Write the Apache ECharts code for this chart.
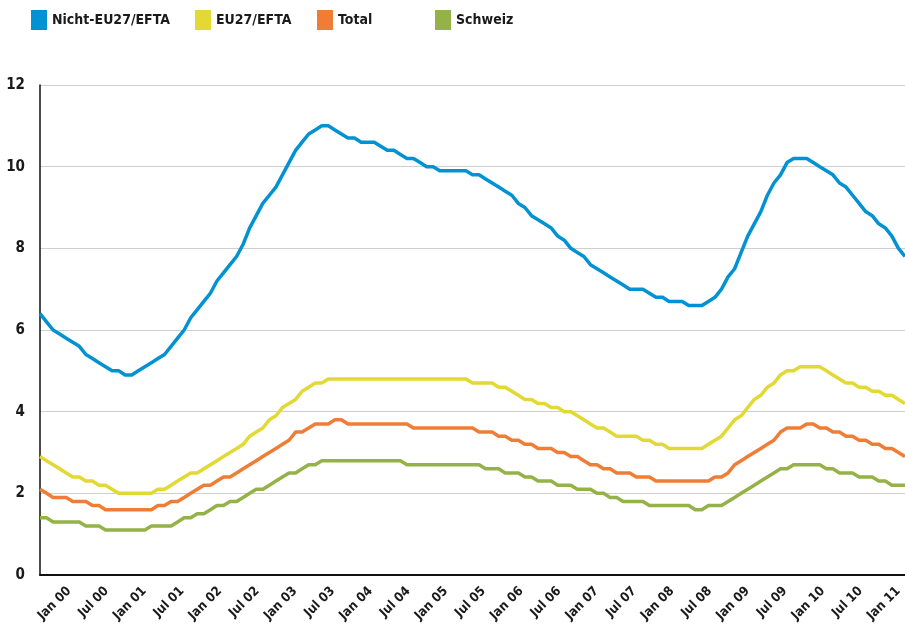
<!DOCTYPE html>
<html>
<head>
<meta charset="utf-8">
<script src="https://cdn.jsdelivr.net/npm/echarts@6/dist/echarts.min.js"></script>
<style>
  html, body { margin: 0; padding: 0; background: #fff; }
  #chart { width: 905px; height: 626px; }
</style>
</head>
<body>
<div id="chart"></div>
<script>
// ========== Monatswerte Jan 2000 – Jan 2011 ==========
const monthNames = ['Jan','Feb','Mär','Apr','Mai','Jun','Jul','Aug','Sep','Okt','Nov','Dez'];
const categories = [];
for (let y = 2000; y <= 2011; y++) {
    for (let m = 0; m < 12; m++) {
        if (y === 2011 && m > 0) break;
        categories.push(monthNames[m] + ' ' + String(y).slice(2));
    }
}

// Achsenbeschriftung (alle 6 Monate)
const tickLabels = ['Jan 00','Jul 00','Jan 01','Jul 01','Jan 02','Jul 02','Jan 03','Jul 03',
    'Jan 04','Jul 04','Jan 05','Jul 05','Jan 06','Jul 06','Jan 07','Jul 07','Jan 08','Jul 08',
    'Jan 09','Jul 09','Jan 10','Jul 10','Jan 11'];

const nichtEU = [
    6.4,6.2,6.0,5.9,5.8,5.7,5.6,5.4,5.3,5.2,
    5.1,5.0,5.0,4.9,4.9,5.0,5.1,5.2,5.3,5.4,
    5.6,5.8,6.0,6.3,6.5,6.7,6.9,7.2,7.4,7.6,
    7.8,8.1,8.5,8.8,9.1,9.3,9.5,9.8,10.1,10.4,
    10.6,10.8,10.9,11.0,11.0,10.9,10.8,10.7,10.7,10.6,
    10.6,10.6,10.5,10.4,10.4,10.3,10.2,10.2,10.1,10.0,
    10.0,9.9,9.9,9.9,9.9,9.9,9.8,9.8,9.7,9.6,
    9.5,9.4,9.3,9.1,9.0,8.8,8.7,8.6,8.5,8.3,
    8.2,8.0,7.9,7.8,7.6,7.5,7.4,7.3,7.2,7.1,
    7.0,7.0,7.0,6.9,6.8,6.8,6.7,6.7,6.7,6.6,
    6.6,6.6,6.7,6.8,7.0,7.3,7.5,7.9,8.3,8.6,
    8.9,9.3,9.6,9.8,10.1,10.2,10.2,10.2,10.1,10.0,
    9.9,9.8,9.6,9.5,9.3,9.1,8.9,8.8,8.6,8.5,
    8.3,8.0,7.8
];
const eu27 = [
    2.9,2.8,2.7,2.6,2.5,2.4,2.4,2.3,2.3,2.2,
    2.2,2.1,2.0,2.0,2.0,2.0,2.0,2.0,2.1,2.1,
    2.2,2.3,2.4,2.5,2.5,2.6,2.7,2.8,2.9,3.0,
    3.1,3.2,3.4,3.5,3.6,3.8,3.9,4.1,4.2,4.3,
    4.5,4.6,4.7,4.7,4.8,4.8,4.8,4.8,4.8,4.8,
    4.8,4.8,4.8,4.8,4.8,4.8,4.8,4.8,4.8,4.8,
    4.8,4.8,4.8,4.8,4.8,4.8,4.7,4.7,4.7,4.7,
    4.6,4.6,4.5,4.4,4.3,4.3,4.2,4.2,4.1,4.1,
    4.0,4.0,3.9,3.8,3.7,3.6,3.6,3.5,3.4,3.4,
    3.4,3.4,3.3,3.3,3.2,3.2,3.1,3.1,3.1,3.1,
    3.1,3.1,3.2,3.3,3.4,3.6,3.8,3.9,4.1,4.3,
    4.4,4.6,4.7,4.9,5.0,5.0,5.1,5.1,5.1,5.1,
    5.0,4.9,4.8,4.7,4.7,4.6,4.6,4.5,4.5,4.4,
    4.4,4.3,4.2
];
const total = [
    2.1,2.0,1.9,1.9,1.9,1.8,1.8,1.8,1.7,1.7,
    1.6,1.6,1.6,1.6,1.6,1.6,1.6,1.6,1.7,1.7,
    1.8,1.8,1.9,2.0,2.1,2.2,2.2,2.3,2.4,2.4,
    2.5,2.6,2.7,2.8,2.9,3.0,3.1,3.2,3.3,3.5,
    3.5,3.6,3.7,3.7,3.7,3.8,3.8,3.7,3.7,3.7,
    3.7,3.7,3.7,3.7,3.7,3.7,3.7,3.6,3.6,3.6,
    3.6,3.6,3.6,3.6,3.6,3.6,3.6,3.5,3.5,3.5,
    3.4,3.4,3.3,3.3,3.2,3.2,3.1,3.1,3.1,3.0,
    3.0,2.9,2.9,2.8,2.7,2.7,2.6,2.6,2.5,2.5,
    2.5,2.4,2.4,2.4,2.3,2.3,2.3,2.3,2.3,2.3,
    2.3,2.3,2.3,2.4,2.4,2.5,2.7,2.8,2.9,3.0,
    3.1,3.2,3.3,3.5,3.6,3.6,3.6,3.7,3.7,3.6,
    3.6,3.5,3.5,3.4,3.4,3.3,3.3,3.2,3.2,3.1,
    3.1,3.0,2.9
];
const schweiz = [
    1.4,1.4,1.3,1.3,1.3,1.3,1.3,1.2,1.2,1.2,
    1.1,1.1,1.1,1.1,1.1,1.1,1.1,1.2,1.2,1.2,
    1.2,1.3,1.4,1.4,1.5,1.5,1.6,1.7,1.7,1.8,
    1.8,1.9,2.0,2.1,2.1,2.2,2.3,2.4,2.5,2.5,
    2.6,2.7,2.7,2.8,2.8,2.8,2.8,2.8,2.8,2.8,
    2.8,2.8,2.8,2.8,2.8,2.8,2.7,2.7,2.7,2.7,
    2.7,2.7,2.7,2.7,2.7,2.7,2.7,2.7,2.6,2.6,
    2.6,2.5,2.5,2.5,2.4,2.4,2.3,2.3,2.3,2.2,
    2.2,2.2,2.1,2.1,2.1,2.0,2.0,1.9,1.9,1.8,
    1.8,1.8,1.8,1.7,1.7,1.7,1.7,1.7,1.7,1.7,
    1.6,1.6,1.7,1.7,1.7,1.8,1.9,2.0,2.1,2.2,
    2.3,2.4,2.5,2.6,2.6,2.7,2.7,2.7,2.7,2.7,
    2.6,2.6,2.5,2.5,2.5,2.4,2.4,2.4,2.3,2.3,
    2.2,2.2,2.2
];

const seriesNames = ['Nicht-EU27/EFTA', 'EU27/EFTA', 'Total', 'Schweiz'];
const seriesColors = ['#0092d2', '#e2d934', '#f07d36', '#95b249'];
const seriesData = [nichtEU, eu27, total, schweiz];
const legendLeft = [31, 195, 317, 435];

const FONT = "'Liberation Sans Narrow', 'DejaVu Sans Condensed', sans-serif";
const TXT = '#1a1a1a';

const chart = echarts.init(document.getElementById('chart'));
chart.setOption({
    animation: false,
    backgroundColor: '#fff',
    legend: seriesNames.map((n, i) => ({
        data: [n], left: legendLeft[i], top: 10, padding: 0,
        icon: 'rect', itemWidth: 16, itemHeight: 20,
        textStyle: { color: TXT, fontSize: 14, fontWeight: 'bold', fontFamily: FONT }
    })),
    grid: [
        { left: 40, right: 0, top: 85, bottom: 51 },
        { left: 69, right: 5, top: 85, bottom: 51 }   // nur für die Beschriftung
    ],
    xAxis: [
        { type: 'category', gridIndex: 0, data: categories, boundaryGap: false,
          axisLine: { lineStyle: { color: '#111', width: 2 } },
          axisTick: { show: false }, axisLabel: { show: false }, splitLine: { show: false } },
        { type: 'category', gridIndex: 1, data: tickLabels, boundaryGap: false,
          axisLine: { show: false }, axisTick: { show: false }, splitLine: { show: false },
          axisLabel: { interval: 0, rotate: 45, margin: 14, color: TXT, fontSize: 13,
                       fontWeight: 'bold', fontFamily: FONT } }
    ],
    yAxis: [
        { type: 'value', gridIndex: 0, min: 0, max: 12, interval: 2,
          axisLine: { show: true, lineStyle: { color: '#111', width: 1.5 } },
          axisTick: { show: false },
          axisLabel: { color: TXT, fontSize: 15, fontWeight: 'bold', fontFamily: FONT, margin: 15 },
          splitLine: { lineStyle: { color: '#cfcfcf', width: 1.2 } } },
        { type: 'value', gridIndex: 1, min: 0, max: 12, show: false }
    ],
    series: seriesNames.map((n, i) => ({
        name: n, type: 'line', xAxisIndex: 0, yAxisIndex: 0,
        data: seriesData[i], symbol: 'none', smooth: false,
        itemStyle: { color: seriesColors[i] },
        lineStyle: { color: seriesColors[i], width: 3.5, join: 'round' }
    }))
});
</script>
</body>
</html>
